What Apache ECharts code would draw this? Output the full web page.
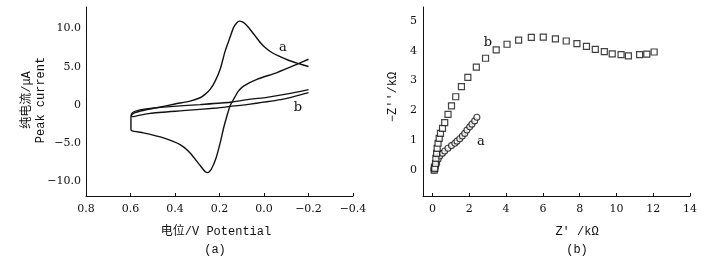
<!DOCTYPE html>
<html>
<head>
<meta charset="utf-8">
<script src="https://cdn.jsdelivr.net/npm/echarts@6/dist/echarts.min.js"></script>
<style>
  html, body { margin: 0; padding: 0; background: #fff; }
  #main { width: 719px; height: 260px; }
</style>
</head>
<body>
<div id="main"></div>
<script>
// (a) cyclic voltammetry, curve a: top branch from -0.2 V to 0.6 V, then bottom branch back
var cvAPotential = [-0.2, -0.155, -0.11, -0.065, -0.035, -0.005, 0.017, 0.04, 0.063, 0.085, 0.097, 0.11, 0.122, 0.137, 0.152, 0.175, 0.197, 0.22, 0.242, 0.265, 0.287, 0.332, 0.4, 0.482, 0.544, 0.58, 0.595, 0.598, 0.598, 0.593,
  0.542, 0.452, 0.377, 0.332, 0.29, 0.265, 0.252, 0.237, 0.215, 0.197, 0.181, 0.167, 0.152, 0.137, 0.116, 0.092, 0.032, -0.058, -0.148, -0.2];
var cvACurrent = [5.02, 5.41, 5.84, 6.4, 6.85, 7.51, 8.16, 9.03, 9.9, 10.6, 10.85, 10.95, 10.75, 10.1, 8.9, 7.0, 4.66, 3.08, 2.03, 1.38, 0.94, 0.5, 0.13, -0.37, -0.72, -1.0, -1.3, -1.64, -3.2, -3.38,
  -3.65, -4.3, -5.18, -6.27, -7.8, -8.7, -8.85, -8.4, -6.89, -4.96, -2.95, -1.47, -0.07, 0.72, 1.77, 2.47, 3.35, 4.23, 5.31, 5.97];

// curve b: upper line going to 0.6 V, lower line coming back
var cvBPotential = [-0.2, -0.118, -0.013, 0.062, 0.152, 0.287, 0.437, 0.512, 0.557, 0.589, 0.597, 0.592, 0.575, 0.512, 0.364, 0.212, 0.152, 0.062, -0.086, -0.2];
var cvBCurrent = [2.0, 1.5, 1.0, 0.75, 0.35, 0.05, -0.25, -0.45, -0.65, -0.95, -1.3, -1.52, -1.45, -1.1, -0.75, -0.4, -0.2, 0.1, 0.75, 1.62];

// (b) Nyquist plot
var eisAReal = [0.08, 0.1, 0.12, 0.16, 0.22, 0.3, 0.39, 0.54, 0.66, 0.84, 1.03, 1.21, 1.33, 1.48, 1.62, 1.75, 1.87, 2.02, 2.14, 2.29, 2.41];
var eisAImag = [0.0, 0.05, 0.02, 0.11, 0.22, 0.36, 0.47, 0.56, 0.64, 0.73, 0.82, 0.9, 0.97, 1.05, 1.14, 1.23, 1.34, 1.45, 1.54, 1.65, 1.77];
var eisBReal = [0.09, 0.1, 0.12, 0.16, 0.18, 0.22, 0.25, 0.3, 0.36, 0.43, 0.54, 0.66, 0.84, 1.03, 1.26, 1.57, 1.92, 2.38, 2.88, 3.46, 4.05, 4.68, 5.37, 6.02, 6.68, 7.27, 7.85, 8.37, 8.85, 9.34, 9.77, 10.25, 10.65, 11.26, 11.65, 12.05];
var eisBImag = [0.0, 0.1, 0.06, 0.22, 0.39, 0.56, 0.73, 0.9, 1.06, 1.23, 1.4, 1.59, 1.87, 2.15, 2.46, 2.8, 3.11, 3.45, 3.75, 4.03, 4.22, 4.36, 4.45, 4.46, 4.4, 4.33, 4.24, 4.15, 4.05, 3.97, 3.9, 3.87, 3.83, 3.87, 3.89, 3.96];

var cvCurrentTicks = [-10, -5, 0, 5, 10];
var eisRealTicks = [0, 2, 4, 6, 8, 10, 12, 14];
var eisImagTicks = [0, 1, 2, 3, 4, 5];

function zip(xs, ys) {
    return xs.map(function (x, i) { return [x, ys[i]]; });
}
function minus(s) {
    return String(s).replace('-', '\u2212');
}

var FONT = "'Liberation Mono', 'Noto Sans CJK SC', monospace";
var NUMFONT = "'DejaVu Serif', 'Liberation Serif', serif";
var INK = '#111';
var lineAxis = { show: true, onZero: false, lineStyle: { color: INK, width: 1 } };
var labelBase = { color: INK, fontFamily: NUMFONT, fontSize: 11 };

var myChart = echarts.init(document.getElementById('main'), null, { renderer: 'canvas' });
var option = {
    backgroundColor: '#fff',
    animation: false,
    grid: [
        { left: 86, top: 7, width: 267, height: 189 },
        { left: 423, top: 7, width: 267, height: 189 }
    ],
    xAxis: [
        {
            gridIndex: 0, type: 'value', inverse: true,
            min: -0.4, max: 0.8, interval: 0.2,
            axisLine: lineAxis,
            axisTick: { show: true, inside: true, length: 3, lineStyle: { color: INK } },
            axisLabel: Object.assign({}, labelBase, { margin: 8, formatter: function (v) { return minus(v.toFixed(1)); } }),
            splitLine: { show: false }
        },
        {
            gridIndex: 1, type: 'value',
            min: -0.52, max: 14,
            axisLine: lineAxis,
            axisTick: { show: true, inside: true, length: 3, customValues: eisRealTicks, lineStyle: { color: INK } },
            axisLabel: Object.assign({}, labelBase, { margin: 8, customValues: eisRealTicks }),
            splitLine: { show: false }
        }
    ],
    yAxis: [
        {
            gridIndex: 0, type: 'value',
            min: -11.9, max: 12.8,
            axisLine: lineAxis,
            axisTick: { show: false },
            axisLabel: Object.assign({}, labelBase, {
                margin: 5, customValues: cvCurrentTicks,
                formatter: function (v) { return v === 0 ? '0' : minus(v.toFixed(1)); }
            }),
            splitLine: { show: false }
        },
        {
            gridIndex: 1, type: 'value',
            min: -0.87, max: 5.47,
            axisLine: lineAxis,
            axisTick: { show: false },
            axisLabel: Object.assign({}, labelBase, { margin: 6, customValues: eisImagTicks }),
            splitLine: { show: false }
        }
    ],
    series: [
        {
            name: 'a', type: 'line', xAxisIndex: 0, yAxisIndex: 0,
            data: zip(cvAPotential, cvACurrent),
            showSymbol: false, smooth: 0.2,
            lineStyle: { color: INK, width: 1.4 }
        },
        {
            name: 'b', type: 'line', xAxisIndex: 0, yAxisIndex: 0,
            data: zip(cvBPotential, cvBCurrent),
            showSymbol: false, smooth: 0.2,
            lineStyle: { color: INK, width: 1.3 }
        },
        {
            name: 'a', type: 'scatter', xAxisIndex: 1, yAxisIndex: 1,
            data: zip(eisAReal, eisAImag),
            symbol: 'circle', symbolSize: 6,
            itemStyle: { color: '#fff', borderColor: INK, borderWidth: 1.1 }
        },
        {
            name: 'b', type: 'scatter', xAxisIndex: 1, yAxisIndex: 1,
            data: zip(eisBReal, eisBImag),
            symbol: 'rect', symbolSize: 6,
            itemStyle: { color: '#fff', borderColor: INK, borderWidth: 1.2 }
        }
    ],
    graphic: [
        // axis titles
        {
            type: 'text', x: 34, y: 100, rotation: Math.PI / 2,
            style: { text: '纯电流/μA\nPeak current', fill: INK, font: '12px ' + FONT, align: 'center', verticalAlign: 'middle', lineHeight: 14 }
        },
        { type: 'text', x: 216, y: 232, style: { text: '电位/V Potential', fill: INK, font: '12px ' + FONT, align: 'center', verticalAlign: 'middle' } },
        { type: 'text', x: 215, y: 250, style: { text: '(a)', fill: INK, font: '12px ' + FONT, align: 'center', verticalAlign: 'middle' } },
        {
            type: 'text', x: 393, y: 97, rotation: Math.PI / 2,
            style: { text: "\u2212Z''/kΩ", fill: INK, font: '12px ' + FONT, align: 'center', verticalAlign: 'middle' }
        },
        { type: 'text', x: 577, y: 232, style: { text: "Z' /kΩ", fill: INK, font: '12px ' + FONT, align: 'center', verticalAlign: 'middle' } },
        { type: 'text', x: 577, y: 250, style: { text: '(b)', fill: INK, font: '12px ' + FONT, align: 'center', verticalAlign: 'middle' } },
        // curve labels
        { type: 'text', x: 283, y: 48, style: { text: 'a', fill: INK, font: '13px ' + NUMFONT, align: 'center', verticalAlign: 'middle' } },
        { type: 'text', x: 298, y: 108, style: { text: 'b', fill: INK, font: '13px ' + NUMFONT, align: 'center', verticalAlign: 'middle' } },
        { type: 'text', x: 488, y: 43, style: { text: 'b', fill: INK, font: '13px ' + NUMFONT, align: 'center', verticalAlign: 'middle' } },
        { type: 'text', x: 481, y: 142, style: { text: 'a', fill: INK, font: '13px ' + NUMFONT, align: 'center', verticalAlign: 'middle' } }
    ]
};
myChart.setOption(option);
</script>
</body>
</html>
